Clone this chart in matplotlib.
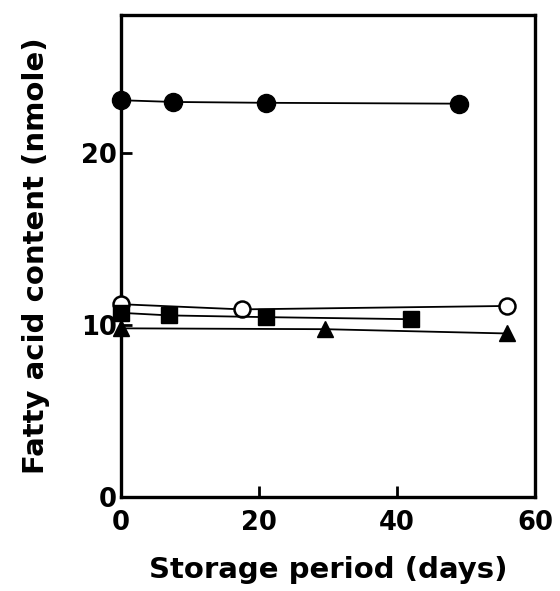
import matplotlib
matplotlib.use("Agg")
import matplotlib.pyplot as plt

plt.rcParams['font.family'] = ['DejaVu Sans']
plt.rcParams['font.weight'] = 'bold'

# Data (days, nmole)
filled_circle_x = [0, 7.5, 21, 49]
filled_circle_y = [23.05, 22.95, 22.9, 22.85]

open_circle_x = [0, 17.5, 56]
open_circle_y = [11.2, 10.9, 11.1]

square_x = [0, 7, 21, 42]
square_y = [10.7, 10.55, 10.45, 10.33]

triangle_x = [0, 29.5, 56]
triangle_y = [9.8, 9.75, 9.5]

x_ticks = [0, 20, 40, 60]
y_ticks = [0, 10, 20]

fig = plt.figure(figsize=(5.6, 5.91), dpi=100)
ax = fig.add_axes([0.2161, 0.159, 0.7393, 0.8156])

lw = 1.3
ax.plot(filled_circle_x, filled_circle_y, '-o', color='black', lw=lw,
        markersize=13, markerfacecolor='black', clip_on=False, zorder=5)
ax.plot(open_circle_x, open_circle_y, '-o', color='black', lw=lw,
        markersize=11.5, markerfacecolor='white', markeredgewidth=1.8,
        clip_on=False, zorder=5)
ax.plot(square_x, square_y, '-s', color='black', lw=lw,
        markersize=11.5, markerfacecolor='black', clip_on=False, zorder=5)
ax.plot(triangle_x, triangle_y, '-^', color='black', lw=lw,
        markersize=11, markerfacecolor='black', clip_on=False, zorder=5)

ax.set_xlim(0, 60)
ax.set_ylim(0, 28)
ax.set_xticks(x_ticks)
ax.set_yticks(y_ticks)
ax.set_xticklabels([str(t) for t in x_ticks])
ax.set_yticklabels([str(t) for t in y_ticks])

for s in ax.spines.values():
    s.set_linewidth(2.4)

ax.tick_params(axis='both', direction='in', length=8, width=2,
               labelsize=18.5)
ax.tick_params(axis='x', pad=9)
ax.tick_params(axis='y', pad=3)
for lab in ax.get_xticklabels() + ax.get_yticklabels():
    lab.set_fontweight('bold')

ax.set_xlabel('Storage period (days)', fontsize=21, fontweight='bold')
ax.set_ylabel('Fatty acid content (nmole)', fontsize=21, fontweight='bold')
ax.xaxis.set_label_coords(0.5, -0.122)
ax.yaxis.set_label_coords(-0.172, 0.5)

fig.savefig('out.png', dpi=100)
